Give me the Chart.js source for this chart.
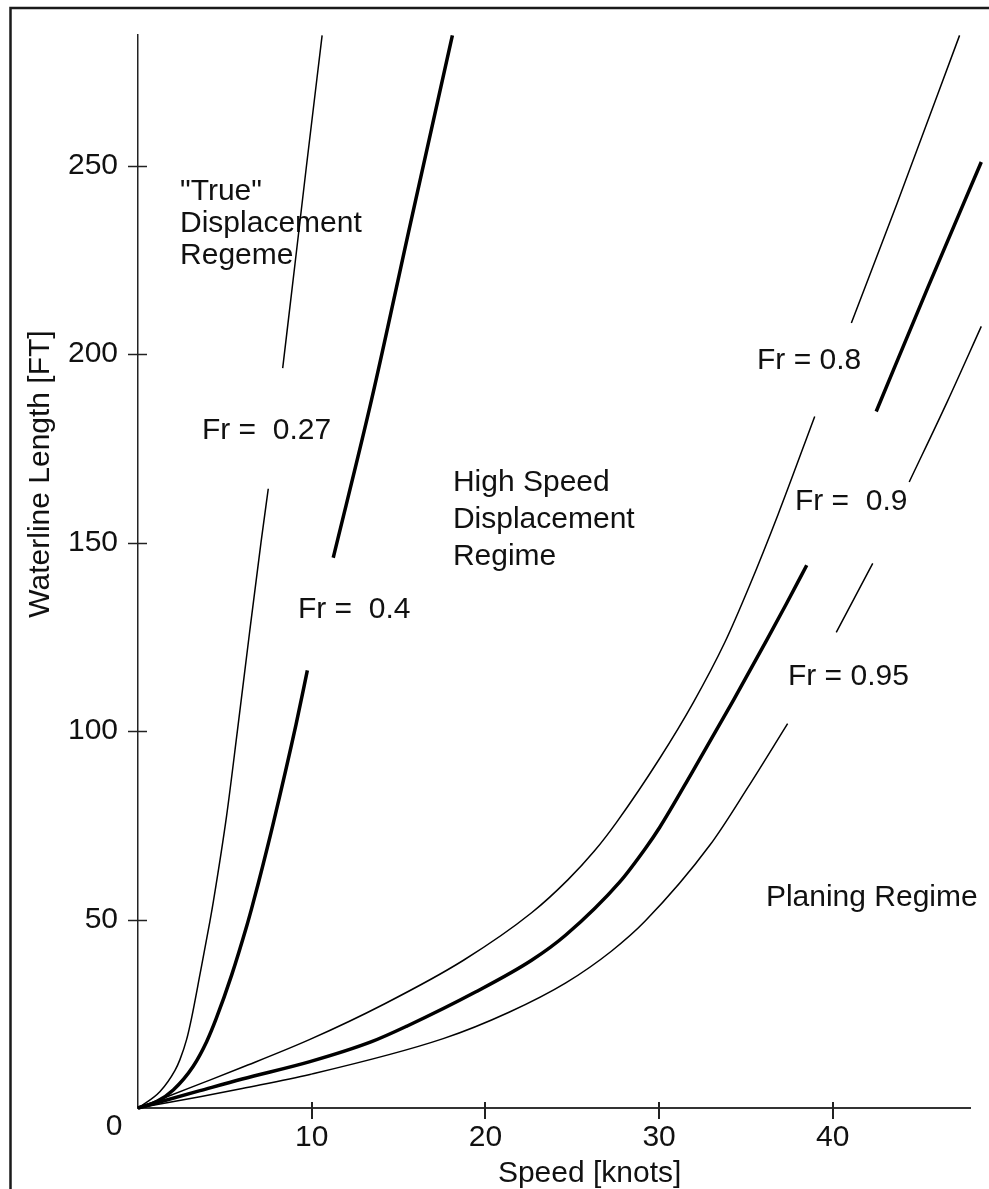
<!DOCTYPE html>
<html>
<head>
<meta charset="utf-8">
<script src="https://cdn.jsdelivr.net/npm/chart.js@4.4.1/dist/chart.umd.min.js"></script>
<style>
html,body{margin:0;padding:0;background:#fff;}
canvas{display:block;}
</style>
</head>
<body>
<canvas id="c" width="989" height="1189"></canvas>
<script>
// ---- axis ticks ----
const speedTicks = [10, 20, 30, 40];
const lengthTicks = [50, 100, 150, 200, 250];
const speedMax = 47.9;
const lengthMax = 284.7;

// ---- series (speed in knots, waterline length in ft); null = gap left for a label ----
const fr027Speed  = [0, 1.27, 2.13, 2.42, 2.8, 3.09, 3.57, 4.14, 4.34, 5.1, 5.72, 6.41, 7.08, 7.5, null, 8.33, 9.04, 9.7, 10.6];
const fr027Length = [0, 4.4, 10, 12.9, 18.2, 24, 35.5, 49.5, 54.8, 77.5, 100, 125.7, 150, 164.3, null, 196.3, 224, 250, 284.6];

const fr04Speed  = [0, 1.07, 2.03, 3.18, 3.95, 4.5, 5.4, 6.26, 6.54, 6.93, 7.78, 9.1, 9.75, null, 11.24, 13.45, 15.7, 18.1];
const fr04Length = [0, 1.7, 4.8, 11.1, 17.6, 23.7, 35.4, 48.3, 52.9, 59.7, 75.4, 101.8, 116.1, null, 146, 188, 235, 284.6];

const fr08Speed  = [0, 3.57, 6, 9.9, 14.18, 18.74, 22.66, 24.76, 26.26, 27.55, 30.04, 31.96, 33.78, 35.2, 36.85, 38.96, null, 41.07, 43.7, 47.3];
const fr08Length = [0, 6.4, 10.8, 18.2, 27.6, 39.2, 51.8, 60.6, 68.1, 75.8, 92.8, 107.5, 123.5, 138.5, 157.5, 183.5, null, 208.3, 240, 284.6];

const fr09Speed  = [0, 3.57, 6, 9.9, 13.45, 15.47, 19.4, 22.66, 24.63, 27.74, 29.2, 30.04, 31.87, 34.26, 36.18, 37.33, 38.5, null, 42.5, 45.5, 48.55];
const fr09Length = [0, 4.6, 7.7, 12.3, 17.6, 21.7, 30.7, 39.2, 45.9, 60, 68.8, 74.5, 88.8, 108, 124, 133.8, 144, null, 184.8, 218, 251];

const fr095Speed  = [0, 3.57, 6, 9.9, 17.57, 21.36, 24.63, 27.25, 29.2, 32.95, 35.13, 37.4, null, 40.2, 42.3, null, 44.4, 46.6, 48.55];
const fr095Length = [0, 3, 5.2, 8.9, 18.4, 25.4, 33.2, 41.6, 49.6, 69.9, 85.2, 102, null, 126.2, 144.5, null, 166.1, 187.5, 207.4];

// ---- text notes placed in data coordinates (left edge, vertical middle) ----
const noteText   = ['"True"', 'Displacement', 'Regeme', 'Fr =  0.27', 'Fr =  0.4', 'High Speed', 'Displacement', 'Regime', 'Fr = 0.8', 'Fr =  0.9', 'Fr = 0.95', 'Planing Regime'];
const noteSpeed  = [2.42, 2.42, 2.42, 3.68, 9.21, 18.13, 18.13, 18.13, 35.64, 37.82, 37.42, 36.15];
const noteLength = [243.1, 234.6, 226.1, 179.7, 132.3, 166.0, 156.2, 146.3, 198.3, 160.9, 114.5, 55.9];

const xTitle = 'Speed [knots]';
const yTitle = 'Waterline Length [FT]';

const FONT = "'Liberation Sans', Arial, sans-serif";
const TEXT = '#111';

function pts(xs, ys) { return xs.map((x, i) => ({x: x, y: ys[i]})); }
function series(xs, ys, w) {
  return {
    data: pts(xs, ys),
    borderColor: '#000',
    borderWidth: w,
    pointRadius: 0,
    fill: false,
    spanGaps: false,
    cubicInterpolationMode: 'monotone',
    clip: false
  };
}

const decor = {
  id: 'decor',
  beforeDraw(chart) {
    const ctx = chart.ctx;
    ctx.save();
    ctx.fillStyle = '#fff';
    ctx.fillRect(0, 0, chart.width, chart.height);
    ctx.strokeStyle = '#1a1a1a';
    ctx.lineWidth = 2.5;
    ctx.beginPath();
    ctx.moveTo(10.5, chart.height);
    ctx.lineTo(10.5, 8);
    ctx.lineTo(chart.width, 8);
    ctx.stroke();
    ctx.restore();
  },
  beforeDatasetsDraw(chart) {
    const ctx = chart.ctx;
    const xs = chart.scales.x, ys = chart.scales.y;
    ctx.save();
    ctx.fillStyle = TEXT;
    ctx.font = '30px ' + FONT;
    ctx.textAlign = 'left';
    ctx.textBaseline = 'middle';
    noteText.forEach((t, i) => {
      ctx.fillText(t, xs.getPixelForValue(noteSpeed[i]), ys.getPixelForValue(noteLength[i]));
    });
    ctx.restore();
  },
  afterDraw(chart) {
    const ctx = chart.ctx;
    const xs = chart.scales.x, ys = chart.scales.y;
    const a = chart.chartArea;
    ctx.save();
    ctx.strokeStyle = '#222';
    // crossing tick marks
    ctx.lineWidth = 1.5;
    ys.ticks.forEach(t => {
      const py = Math.round(ys.getPixelForValue(t.value)) + 0.5;
      ctx.beginPath(); ctx.moveTo(a.left - 10, py); ctx.lineTo(a.left + 9, py); ctx.stroke();
    });
    ctx.lineWidth = 2;
    xs.ticks.forEach(t => {
      const px = Math.round(xs.getPixelForValue(t.value));
      ctx.beginPath(); ctx.moveTo(px, a.bottom - 6); ctx.lineTo(px, a.bottom + 11); ctx.stroke();
    });
    // origin label
    ctx.fillStyle = TEXT;
    ctx.font = '30px ' + FONT;
    ctx.textAlign = 'center';
    ctx.textBaseline = 'middle';
    ctx.fillText('0', a.left - 24, a.bottom + 19);
    // x title
    ctx.fillText(xTitle, xs.getPixelForValue(26), a.bottom + 66);
    // y title
    ctx.translate(49, 474);
    ctx.rotate(-Math.PI / 2);
    ctx.textBaseline = 'alphabetic';
    ctx.fillText(yTitle, 0, 0);
    ctx.restore();
  }
};

new Chart(document.getElementById('c'), {
  type: 'line',
  data: {
    datasets: [
      series(fr027Speed, fr027Length, 1.5),
      series(fr04Speed, fr04Length, 3.5),
      series(fr08Speed, fr08Length, 1.5),
      series(fr09Speed, fr09Length, 3.5),
      series(fr095Speed, fr095Length, 1.5)
    ]
  },
  options: {
    responsive: false,
    devicePixelRatio: 1,
    animation: false,
    events: [],
    layout: { padding: { top: 33, right: 19, left: 0, bottom: 0 } },
    plugins: { legend: { display: false }, tooltip: { enabled: false } },
    scales: {
      x: {
        type: 'linear',
        position: 'bottom',
        min: 0,
        max: speedMax,
        grid: { display: false, drawTicks: false },
        border: { display: true, color: '#333', width: 2 },
        ticks: { color: TEXT, font: { family: FONT, size: 30, lineHeight: 1 }, padding: 15, maxRotation: 0, autoSkip: false },
        afterBuildTicks: s => { s.ticks = speedTicks.map(v => ({value: v})); },
        afterFit: s => { s.height = 81; }
      },
      y: {
        type: 'linear',
        min: 0,
        max: lengthMax,
        grid: { display: false, drawTicks: false },
        border: { display: true, color: '#222', width: 1.5 },
        ticks: { color: TEXT, font: { family: FONT, size: 30, lineHeight: 1 }, padding: 20, autoSkip: false },
        afterBuildTicks: s => { s.ticks = lengthTicks.map(v => ({value: v})); },
        afterFit: s => { s.width = 138; }
      }
    }
  },
  plugins: [decor]
});
</script>
</body>
</html>
